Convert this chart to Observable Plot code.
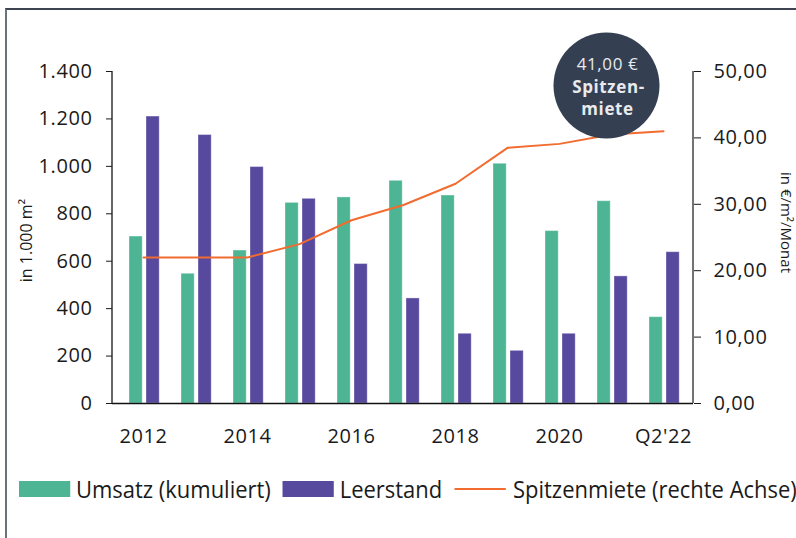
<!DOCTYPE html>
<html>
<head>
<meta charset="utf-8">
<script src="https://cdn.jsdelivr.net/npm/d3@7"></script>
<script src="https://cdn.jsdelivr.net/npm/@observablehq/plot@0.6"></script>
<style>
  html, body { margin: 0; padding: 0; background: #fff; width: 796px; height: 538px; overflow: hidden; }
  body { font-family: "Open Sans", sans-serif; }
  #frame { position: absolute; left: 5px; top: 8px; width: 791px; height: 530px;
    border-top: 2px solid #3d4351; border-left: 2px solid #6b717d; box-sizing: border-box; }
  #legend { position: absolute; left: 19px; top: 472px; display: flex; align-items: center;
    font-size: 24px; color: #1a1a1a; white-space: nowrap; transform: scaleX(0.915); transform-origin: 0 50%; }
  .item { display: flex; align-items: center; margin-right: 13px; }
  .sw { width: 55.7px; height: 16px; margin-right: 6.6px; }
  .ln { width: 56.8px; height: 2px; margin-right: 7.6px; }
</style>
</head>
<body>
<div id="frame"><div id="chart"></div></div>
<div id="legend"></div>
<script>
// ---- data ----
const categories = ["2012","2013","2014","2015","2016","2017","2018","2019","2020","2021","Q2'22"];
const umsatz    = [704, 547, 645, 846, 869, 939, 877, 1011, 727, 853, 364];
const leerstand = [1210, 1132, 997, 863, 588, 443, 294, 222, 294, 536, 638];
const spitzenmiete = [22.0, 22.0, 22.0, 24.0, 27.6, 29.9, 33.1, 38.5, 39.1, 40.5, 41.0];
const xTickLabels = ["2012","2014","2016","2018","2020","Q2'22"];
const leftTicks = [0, 200, 400, 600, 800, 1000, 1200, 1400];
const rightTicks = [0, 10, 20, 30, 40, 50];
const seriesNames = ["Umsatz (kumuliert)", "Leerstand", "Spitzenmiete (rechte Achse)"];
const axisTitles = ["in 1.000 m²", "in €/m²/Monat"];
const bubbleLines = ["41,00 €", "Spitzen-", "miete"];
const bubbleAnchor = {cat: "2021", rent: 47.9};

const colors = {umsatz: "#4db594", leer: "#56499e", miete: "#f26b2f", bubble: "#343f52"};
const RATIO = 1400 / 50;

const de = d3.formatLocale({decimal: ",", thousands: ".", grouping: [3], currency: ["", " €"]});
const fmtLeft = de.format(",.0f");
const fmtRight = de.format(".2f");

const rows = categories.map((c, i) => ({cat: c, umsatz: umsatz[i], leer: leerstand[i], miete: spitzenmiete[i] * RATIO}));

const W = 789, H = 460;
const mL = 105, mR = 103, mT = 61, mB = 67;

const axisLines = (index, scales, values, dims) => {
  const g = d3.create("svg:g");
  const x0 = dims.marginLeft, x1 = dims.width - dims.marginRight;
  const y0 = dims.marginTop, y1 = dims.height - dims.marginBottom;
  g.append("line").attr("x1", x0).attr("x2", x0).attr("y1", y0).attr("y2", y1)
    .attr("stroke", "#333").attr("stroke-width", 1.5);
  g.append("line").attr("x1", x1).attr("x2", x1).attr("y1", y0).attr("y2", y1)
    .attr("stroke", "#444").attr("stroke-width", 1.5);
  return g.node();
};

const chart = Plot.plot({
  width: W, height: H,
  marginLeft: mL, marginRight: mR, marginTop: mT, marginBottom: mB,
  style: {fontFamily: "'Open Sans', sans-serif", fontSize: "20px", color: "#1a1a1a", background: "transparent", letterSpacing: "0.6px"},
  x: {type: "band", domain: categories, padding: 0},
  y: {domain: [0, 1400]},
  marks: [
    Plot.barY(rows, {x: "cat", y: "umsatz", fill: colors.umsatz, insetLeft: 12, insetRight: 26.8,
      stroke: "#ffffff", strokeOpacity: 0.35, strokeWidth: 1}),
    Plot.barY(rows, {x: "cat", y: "leer", fill: colors.leer, insetLeft: 29, insetRight: 9.8,
      stroke: "#ffffff", strokeOpacity: 0.35, strokeWidth: 1}),
    Plot.ruleY([0], {stroke: "#111", strokeWidth: 1.5}),
    axisLines,
    Plot.line(rows, {x: "cat", y: "miete", stroke: colors.miete, strokeWidth: 2}),
    Plot.axisY({anchor: "left", ticks: leftTicks, tickFormat: fmtLeft, tickSize: 6, tickPadding: 14,
      label: null, fontSize: 20}),
    Plot.axisY({anchor: "right", ticks: rightTicks.map(v => v * RATIO), tickFormat: d => fmtRight(d / RATIO),
      tickSize: 7, tickPadding: 13, label: null, fontSize: 20}),
    Plot.axisX({ticks: xTickLabels, tickSize: 0, tickPadding: 25, label: null, fontSize: 20}),
    Plot.text([axisTitles[0]], {frameAnchor: "left", textAnchor: "middle", rotate: -90, dx: -86, dy: 3, fontSize: 16, fill: "#1a1a1a"}),
    Plot.text([axisTitles[1]], {frameAnchor: "right", textAnchor: "middle", rotate: 90, dx: 92, dy: -15, fontSize: 15, fill: "#1a1a1a"}),
    Plot.dot([bubbleAnchor], {x: "cat", y: d => d.rent * RATIO, r: 53, fill: colors.bubble, dx: -5}),
    Plot.text([bubbleAnchor], {x: "cat", y: d => d.rent * RATIO, text: () => bubbleLines[0], dx: -4, dy: -21,
      fill: "#e8eaee", fontSize: 17, fontWeight: 400}),
    Plot.text([bubbleAnchor], {x: "cat", y: d => d.rent * RATIO, text: () => bubbleLines[1], dx: -3, dy: 2,
      fill: "#e8eaee", fontSize: 17, fontWeight: 700}),
    Plot.text([bubbleAnchor], {x: "cat", y: d => d.rent * RATIO, text: () => bubbleLines[2], dx: -4, dy: 24,
      fill: "#e8eaee", fontSize: 17, fontWeight: 700})
  ]
});
d3.select(chart).selectAll("text").filter(function() { return axisTitles.includes(this.textContent); })
  .style("letter-spacing", "0px");
document.getElementById("chart").appendChild(chart);

const legend = document.getElementById("legend");
[[seriesNames[0], "sw", colors.umsatz], [seriesNames[1], "sw", colors.leer], [seriesNames[2], "ln", colors.miete]]
  .forEach(([name, cls, col]) => {
    const it = document.createElement("div"); it.className = "item";
    const s = document.createElement("div"); s.className = cls; s.style.background = col;
    const t = document.createElement("span"); t.textContent = name;
    it.appendChild(s); it.appendChild(t); legend.appendChild(it);
  });
</script>
</body>
</html>
